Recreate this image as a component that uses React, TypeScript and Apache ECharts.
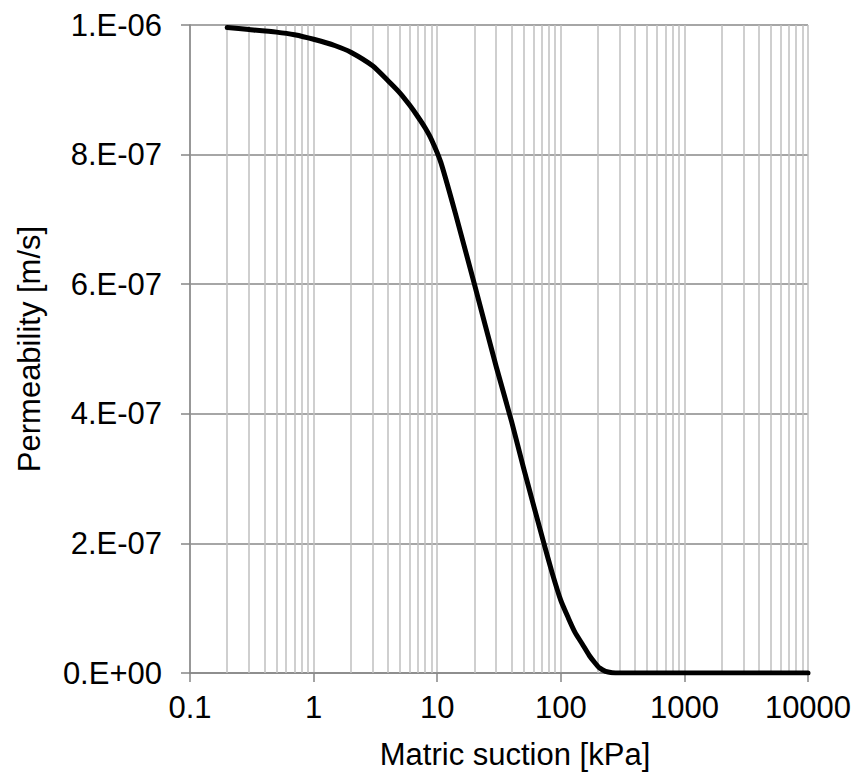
import React, { useEffect, useRef } from "react";
import * as echarts from "echarts";

// Matric suction [kPa]
const suction = [0.2, 0.3, 0.5, 0.7, 1, 1.5, 2, 3, 4, 5, 6, 7, 8, 9, 10.7, 14, 20, 30, 40, 50, 73, 85, 100, 115, 130, 150, 170, 190, 205, 230, 260, 300, 400, 1000, 3000, 10000];
// Permeability [m/s]
const permeability = [9.96e-7, 9.93e-7, 9.89e-7, 9.85e-7, 9.78e-7, 9.68e-7, 9.58e-7, 9.37e-7, 9.14e-7, 8.95e-7, 8.76e-7, 8.58e-7, 8.41e-7, 8.23e-7, 7.88e-7, 7.1e-7, 6.0e-7, 4.73e-7, 3.88e-7, 3.16e-7, 2.0e-7, 1.55e-7, 1.12e-7, 0.85e-7, 0.63e-7, 0.44e-7, 0.27e-7, 0.15e-7, 0.08e-7, 0.025e-7, 0.005e-7, 0, 0, 0, 0, 0];
// Minor vertical grid positions (2..9 in each decade)
const minorGrid = [0.2, 0.3, 0.4, 0.5, 0.6, 0.7, 0.8, 0.9, 2, 3, 4, 5, 6, 7, 8, 9, 20, 30, 40, 50, 60, 70, 80, 90, 200, 300, 400, 500, 600, 700, 800, 900, 2000, 3000, 4000, 5000, 6000, 7000, 8000, 9000];

const FONT = "'Liberation Sans', Arial, sans-serif";

function fmtX(v: number): string {
  const r = Math.round(v * 1000) / 1000;
  return String(r);
}
function fmtY(v: number): string {
  if (Math.abs(v) < 1e-15) return "0.E+00";
  const e = Math.floor(Math.log10(Math.abs(v)) + 1e-9);
  const m = Math.round(v / Math.pow(10, e));
  const ae = Math.abs(e);
  return `${m}.E${e < 0 ? "-" : "+"}${ae < 10 ? "0" + ae : ae}`;
}

export default function App() {
  const ref = useRef<HTMLDivElement>(null);
  useEffect(() => {
    if (!ref.current) return;
    const chart = echarts.init(ref.current, undefined, { renderer: "svg" });
    const data = suction.map((x, i) => [x, permeability[i]]);
    chart.setOption({
      animation: false,
      backgroundColor: "#ffffff",
      grid: { left: 190, right: 50, top: 25, bottom: 104, containLabel: false },
      xAxis: {
        type: "log",
        logBase: 10,
        min: 0.1,
        max: 10000,
        name: "Matric suction [kPa]",
        nameLocation: "middle",
        nameGap: 66,
        nameTextStyle: { fontFamily: FONT, fontSize: 31, color: "#000", padding: [0, 0, 0, 32] },
        axisLine: { show: true, lineStyle: { color: "#868686", width: 1.5 } },
        axisTick: { show: true, length: 9, lineStyle: { color: "#868686", width: 1.5 } },
        axisLabel: { fontFamily: FONT, fontSize: 31, color: "#000", margin: 19, formatter: fmtX },
        splitLine: { show: true, lineStyle: { color: "#bfbfbf", width: 1.5 } },
      },
      yAxis: {
        type: "value",
        min: 0,
        max: 1e-6,
        interval: 2e-7,
        name: "Permeability [m/s]",
        nameLocation: "middle",
        nameGap: 145,
        nameTextStyle: { fontFamily: FONT, fontSize: 31, color: "#000" },
        axisLine: { show: true, lineStyle: { color: "#868686", width: 1.5 } },
        axisTick: { show: true, length: 9, lineStyle: { color: "#868686", width: 1.5 } },
        axisLabel: { fontFamily: FONT, fontSize: 31, color: "#000", margin: 28, formatter: fmtY },
        splitLine: { show: true, lineStyle: { color: "#898989", width: 1.5 } },
      },
      series: [
        {
          type: "line",
          data,
          z: 1,
          silent: true,
          showSymbol: false,
          lineStyle: { opacity: 0, width: 0 },
          markLine: {
            silent: true,
            symbol: ["none", "none"],
            label: { show: false },
            lineStyle: { color: "#bfbfbf", width: 1.5, type: "solid" },
            emphasis: { disabled: true },
            data: minorGrid.map((v) => ({ xAxis: v })),
          },
        },
        {
          type: "line",
          data,
          z: 5,
          showSymbol: false,
          smooth: 0.2,
          lineStyle: { color: "#000000", width: 5, cap: "round", join: "round" },
        },
      ],
    });
    return () => chart.dispose();
  }, []);
  return <div ref={ref} style={{ position: "absolute", left: 0, top: 0, width: 858, height: 777 }} />;
}
